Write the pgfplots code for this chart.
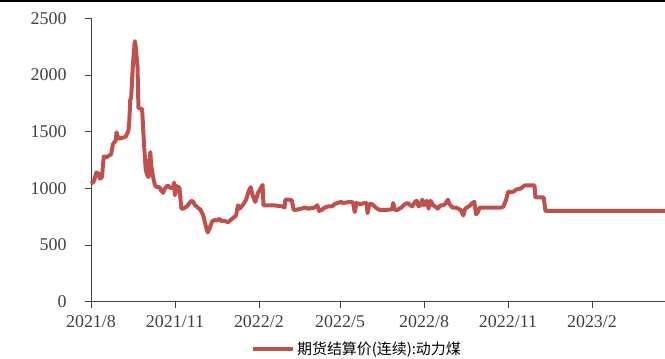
\documentclass[border=0pt]{standalone}
\usepackage{pgfplots}
\pgfplotsset{compat=1.18}
\usepackage{fontspec}
\setmainfont{Liberation Serif}
\newfontfamily\cjk{Noto Sans CJK SC}
\definecolor{coal}{RGB}{192,80,77}
\definecolor{txt}{RGB}{64,64,64}

% settlement price, continuous contract; x = days since 2021-08-01
\pgfplotstableread{
day price
0 1040
3 1060
6 1140
8 1130
10 1085
12 1100
14 1280
17 1275
20 1290
22 1300
24 1390
27 1420
28 1495
30 1440
34 1445
38 1455
41 1510
42 1600
43 1780
44 1800
46 2100
48 2300
49 2250
51 2070
52 1710
56 1700
58 1400
60 1160
62 1110
63 1100
64 1250
65 1320
66 1200
68 1100
70 1030
72 1010
75 1010
77 980
79 960
81 1000
84 1025
86 1010
88 1000
90 1010
91 1050
92 940
94 1020
96 1010
97 1000
99 820
101 820
105 840
110 890
112 880
114 850
117 830
120 810
123 760
126 660
128 610
130 650
133 710
136 720
138 715
141 730
143 710
147 710
150 700
153 720
156 740
159 760
161 850
163 820
165 840
167 860
170 900
173 980
175 1010
177 940
180 880
183 960
186 1000
188 1030
189 850
195 850
200 850
205 845
210 840
212 830
213 900
216 900
220 895
222 810
225 810
230 820
235 830
238 820
242 825
245 830
248 850
250 800
253 810
256 830
260 840
264 840
267 860
270 870
274 880
276 870
280 875
284 880
287 875
289 790
291 870
295 860
300 870
302 870
303 780
305 860
308 860
312 830
316 810
320 810
325 810
330 815
331 870
333 810
336 810
340 830
344 860
347 870
350 850
352 840
355 880
357 890
359 840
361 850
363 900
365 850
368 890
370 820
372 890
375 850
377 840
380 820
383 850
386 850
389 870
391 900
393 860
396 830
400 830
405 810
408 760
410 820
414 840
418 870
420 880
422 770
424 790
426 830
430 830
440 830
450 830
452 840
455 900
457 970
460 965
463 970
466 990
470 995
473 1010
475 1025
480 1025
486 1025
487 920
490 920
496 920
498 800
510 800
520 800
527 800
560 800
600 800
629 800
}\coaldata

\begin{document}
\begin{tikzpicture}
\useasboundingbox (0,0) rectangle (665bp,359bp);
\fill[black] (0,357bp) rectangle (665bp,359bp);
\begin{axis}[
  at={(91bp,57.5bp)}, anchor=south west,
  scale only axis, width=574bp, height=283bp,
  xmin=0, xmax=629, ymin=0, ymax=2500,
  axis x line*=bottom, axis y line*=left,
  axis line style={txt, line width=0.8pt, -},
  tick style={txt, line width=0.8pt},
  tick align=outside, major tick length=6bp,
  xtick={0,92,184,273,365,457,549},
  xticklabels={2021/8,2021/11,2022/2,2022/5,2022/8,2022/11,2023/2},
  ytick={0,500,1000,1500,2000,2500},
  yticklabels={0,500,1000,1500,2000,2500},
  ticklabel style={font=\fontsize{18}{20}\selectfont, text=txt},
  xticklabel style={yshift=-5bp},
  yticklabel style={xshift=-15bp},
  legend style={at={(0.4634,-0.168)}, anchor=center, draw=none, fill=none,
    font=\cjk\fontsize{15}{17}\selectfont, text=black},
  legend image code/.code={\draw[#1] (0bp,0bp) -- (40bp,0bp);},
  clip=false,
]
\addplot[coal, line width=4pt, line join=round] table[x=day, y=price] {\coaldata};
\addlegendentry{期货结算价(连续):动力煤}
\end{axis}
\end{tikzpicture}
\end{document}
